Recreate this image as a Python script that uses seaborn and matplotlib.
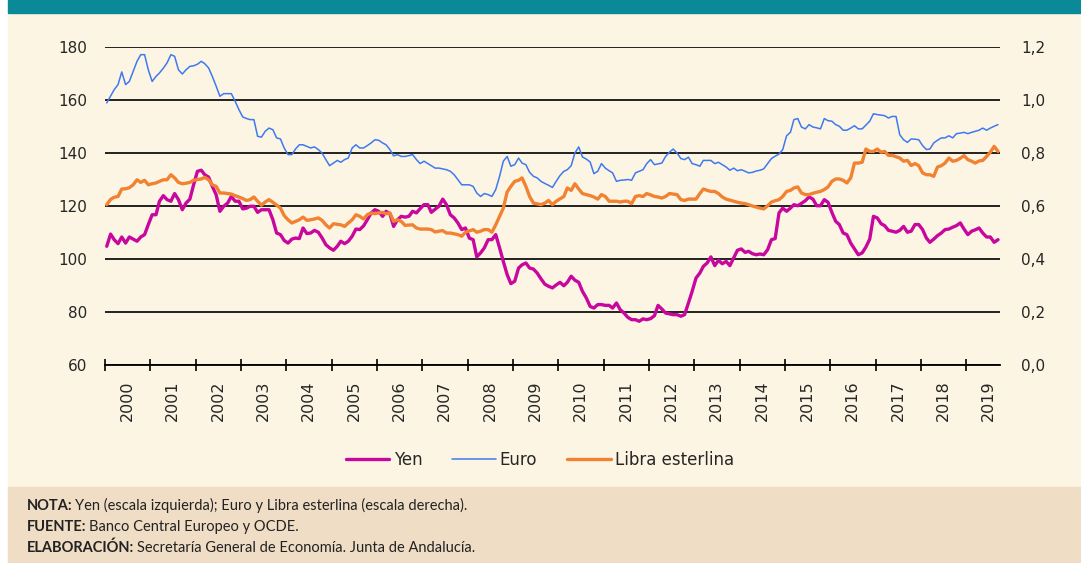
import pandas as pd
import seaborn as sns
import matplotlib.pyplot as plt
import matplotlib.dates as mdates
from matplotlib.patches import Rectangle
from matplotlib.lines import Line2D
from matplotlib.ticker import FixedLocator, NullFormatter

# Tipos de cambio mensuales frente al dólar (ene-2000 a sep-2019)
yen = [104.8, 109.4, 107.3, 105.8, 108.3, 106.0, 108.3, 107.5, 106.7, 108.3, 109.2, 113.0,
       116.7, 116.7, 121.8, 123.9, 122.4, 121.8, 124.7, 122.4, 118.6, 121.1, 122.6, 128.0,
       133.1, 133.5, 131.8, 130.9, 127.4, 124.2, 118.0, 119.9, 121.1, 123.6, 121.8, 121.8,
       118.9, 119.2, 119.9, 119.9, 117.6, 118.6, 118.6, 118.6, 114.8, 109.8, 109.2, 107.0,
       106.0, 107.5, 107.9, 107.7, 111.7, 109.6, 109.8, 110.8, 110.1, 108.0, 105.4, 104.2,
       103.3, 104.8, 106.7, 105.8, 106.7, 108.6, 111.3, 111.1, 112.5, 114.8, 117.4, 118.6,
       118.0, 116.1, 118.0, 117.1, 112.3, 114.8, 116.1, 115.8, 116.1, 118.0, 117.4, 119.0,
       120.5, 120.5, 117.6, 118.8, 119.9, 122.6, 120.5, 116.7, 115.5, 113.6, 111.1, 111.7,
       107.9, 107.3, 100.8, 102.3, 104.2, 107.3, 107.3, 109.2, 104.2, 99.1, 94.1, 90.7,
       91.6, 96.6, 97.8, 98.5, 96.6, 96.2, 94.7, 92.5, 90.5, 89.7, 89.1, 90.2,
       91.2, 89.9, 91.2, 93.5, 92.0, 91.2, 87.8, 85.3, 82.1, 81.5, 82.8, 82.8,
       82.5, 82.5, 81.5, 83.4, 80.9, 79.6, 78.0, 77.1, 77.1, 76.5, 77.4, 77.1,
       77.5, 78.6, 82.5, 81.1, 79.6, 79.3, 79.0, 79.0, 78.4, 79.0, 83.4, 87.8,
       92.8, 94.7, 97.2, 98.5, 100.8, 97.5, 99.5, 98.2, 99.1, 97.5, 100.4, 103.3,
       103.8, 102.5, 102.9, 102.0, 101.6, 101.9, 101.6, 103.5, 107.3, 107.7, 117.4, 119.2,
       118.0, 119.2, 120.5, 120.1, 121.0, 122.0, 123.4, 122.6, 120.1, 120.1, 122.4, 121.4,
       117.6, 114.2, 113.0, 109.8, 109.2, 106.0, 103.8, 101.6, 102.3, 104.5, 107.5, 116.1,
       115.5, 113.3, 112.6, 110.8, 110.5, 110.1, 110.8, 112.3, 110.1, 110.5, 113.0, 113.0,
       111.1, 107.9, 106.3, 107.5, 108.8, 109.8, 111.1, 111.3, 112.0, 112.6, 113.6, 111.3,
       109.2, 110.5, 111.0, 111.7, 109.8, 108.3, 108.3, 106.3, 107.3]

euro = [0.989, 1.015, 1.039, 1.058, 1.106, 1.058, 1.070, 1.108, 1.146, 1.171, 1.171, 1.114,
        1.070, 1.089, 1.102, 1.120, 1.140, 1.171, 1.165, 1.114, 1.098, 1.114, 1.127, 1.129,
        1.135, 1.146, 1.137, 1.121, 1.089, 1.052, 1.014, 1.024, 1.024, 1.024, 0.995, 0.964,
        0.936, 0.930, 0.926, 0.926, 0.863, 0.860, 0.882, 0.894, 0.888, 0.857, 0.853, 0.819,
        0.794, 0.794, 0.815, 0.831, 0.831, 0.825, 0.819, 0.823, 0.813, 0.800, 0.775, 0.752,
        0.762, 0.772, 0.765, 0.775, 0.781, 0.819, 0.831, 0.819, 0.819, 0.828, 0.838, 0.850,
        0.848, 0.838, 0.831, 0.813, 0.789, 0.794, 0.787, 0.787, 0.790, 0.794, 0.775, 0.760,
        0.769, 0.760, 0.752, 0.743, 0.743, 0.740, 0.737, 0.731, 0.718, 0.699, 0.680, 0.680,
        0.680, 0.674, 0.649, 0.636, 0.647, 0.643, 0.636, 0.662, 0.712, 0.769, 0.787, 0.750,
        0.756, 0.781, 0.762, 0.756, 0.727, 0.712, 0.706, 0.693, 0.685, 0.678, 0.670, 0.693,
        0.715, 0.731, 0.737, 0.752, 0.800, 0.823, 0.785, 0.777, 0.766, 0.722, 0.731, 0.760,
        0.743, 0.733, 0.725, 0.693, 0.697, 0.698, 0.700, 0.697, 0.725, 0.731, 0.737, 0.760,
        0.775, 0.756, 0.759, 0.762, 0.787, 0.803, 0.815, 0.800, 0.779, 0.775, 0.784, 0.760,
        0.756, 0.750, 0.772, 0.772, 0.772, 0.760, 0.765, 0.756, 0.747, 0.735, 0.743, 0.733,
        0.737, 0.731, 0.725, 0.727, 0.732, 0.735, 0.740, 0.760, 0.779, 0.788, 0.796, 0.813,
        0.865, 0.878, 0.926, 0.930, 0.898, 0.891, 0.907, 0.898, 0.895, 0.891, 0.930, 0.922,
        0.920, 0.907, 0.901, 0.886, 0.886, 0.894, 0.903, 0.891, 0.891, 0.905, 0.920, 0.948,
        0.945, 0.943, 0.941, 0.932, 0.938, 0.938, 0.869, 0.850, 0.840, 0.853, 0.852, 0.850,
        0.828, 0.813, 0.815, 0.838, 0.848, 0.857, 0.857, 0.865, 0.857, 0.873, 0.875, 0.878,
        0.873, 0.878, 0.882, 0.886, 0.894, 0.886, 0.894, 0.901, 0.907]

libra = [0.605, 0.625, 0.633, 0.636, 0.664, 0.665, 0.669, 0.680, 0.699, 0.689, 0.697, 0.680,
         0.684, 0.687, 0.693, 0.699, 0.699, 0.718, 0.706, 0.689, 0.684, 0.686, 0.689, 0.697,
         0.700, 0.702, 0.708, 0.699, 0.680, 0.674, 0.649, 0.649, 0.647, 0.645, 0.639, 0.634,
         0.628, 0.621, 0.624, 0.634, 0.618, 0.603, 0.615, 0.624, 0.614, 0.603, 0.592, 0.564,
         0.548, 0.536, 0.542, 0.548, 0.558, 0.546, 0.548, 0.551, 0.555, 0.546, 0.529, 0.517,
         0.533, 0.531, 0.529, 0.523, 0.536, 0.548, 0.567, 0.561, 0.551, 0.567, 0.574, 0.571,
         0.574, 0.576, 0.571, 0.574, 0.542, 0.548, 0.542, 0.527, 0.528, 0.529, 0.517, 0.513,
         0.513, 0.513, 0.511, 0.502, 0.505, 0.507, 0.498, 0.498, 0.495, 0.492, 0.486, 0.501,
         0.506, 0.511, 0.501, 0.505, 0.511, 0.511, 0.501, 0.529, 0.561, 0.592, 0.653, 0.674,
         0.693, 0.697, 0.706, 0.674, 0.636, 0.611, 0.608, 0.605, 0.611, 0.621, 0.605, 0.618,
         0.627, 0.636, 0.668, 0.659, 0.684, 0.664, 0.647, 0.643, 0.639, 0.634, 0.626, 0.643,
         0.636, 0.618, 0.618, 0.618, 0.615, 0.618, 0.618, 0.609, 0.636, 0.639, 0.636, 0.647,
         0.642, 0.636, 0.634, 0.630, 0.636, 0.647, 0.645, 0.643, 0.624, 0.621, 0.626, 0.626,
         0.626, 0.647, 0.664, 0.659, 0.655, 0.655, 0.647, 0.634, 0.626, 0.622, 0.618, 0.614,
         0.611, 0.609, 0.605, 0.600, 0.596, 0.592, 0.589, 0.601, 0.615, 0.620, 0.624, 0.636,
         0.655, 0.659, 0.668, 0.672, 0.649, 0.643, 0.643, 0.648, 0.652, 0.655, 0.662, 0.672,
         0.693, 0.702, 0.702, 0.697, 0.687, 0.706, 0.762, 0.762, 0.765, 0.815, 0.806, 0.806,
         0.815, 0.803, 0.806, 0.791, 0.791, 0.786, 0.781, 0.769, 0.772, 0.753, 0.760, 0.752,
         0.725, 0.718, 0.718, 0.712, 0.747, 0.752, 0.762, 0.781, 0.769, 0.772, 0.780, 0.790,
         0.775, 0.769, 0.762, 0.770, 0.772, 0.787, 0.803, 0.825, 0.806]

years = list(range(2000, 2020))
y_left = [60, 80, 100, 120, 140, 160, 180]
y_right = [0.0, 0.2, 0.4, 0.6, 0.8, 1.0, 1.2]

fechas = pd.date_range('2000-01-01', periods=len(yen), freq='MS') + pd.Timedelta(days=14)
df = pd.DataFrame({'fecha': fechas, 'Yen': yen, 'Euro': euro, 'Libra esterlina': libra})

col_yen = '#c8079e'
col_euro = '#3d7af0'
col_libra = '#f08232'

sns.set_style('white')
plt.rcParams['font.family'] = ['DejaVu Sans']

W, H = 1081, 563
fig = plt.figure(figsize=(W / 100, H / 100), dpi=100)
fig.patch.set_facecolor('white')

# fondos del recuadro
fig.add_artist(Rectangle((8 / W, 0), 1, 1, transform=fig.transFigure,
                         color='#fdf5e3', zorder=-3))
fig.add_artist(Rectangle((8 / W, 1 - 13 / H), 1, 13 / H, transform=fig.transFigure,
                         color='#0a8a98', zorder=-2))
fig.add_artist(Rectangle((8 / W, 0), 1, 76 / H, transform=fig.transFigure,
                         color='#f0ddc5', zorder=-2))

ax = fig.add_axes([105 / W, 1 - 365 / H, 895 / W, 318 / H])
ax.patch.set_visible(False)
ax2 = ax.twinx()

sns.lineplot(data=df, x='fecha', y='Yen', ax=ax, color=col_yen, lw=2.4)
sns.lineplot(data=df, x='fecha', y='Euro', ax=ax2, color=col_euro, lw=1.1)
sns.lineplot(data=df, x='fecha', y='Libra esterlina', ax=ax2, color=col_libra, lw=2.4)

ax.set_ylim(60, 180)
ax2.set_ylim(0, 1.2)
ax.set_xlim(pd.Timestamp('2000-01-01'), pd.Timestamp('2019-10-01'))
ax.set_xlabel('')
ax.set_ylabel('')
ax2.set_ylabel('')

# eje x: marcas al inicio de cada año y etiqueta a mitad de año
ax.xaxis.set_major_locator(FixedLocator(mdates.date2num([pd.Timestamp(f'{y}-01-01') for y in years])))
ax.xaxis.set_major_formatter(NullFormatter())
ax.xaxis.set_minor_locator(FixedLocator(mdates.date2num([pd.Timestamp(f'{y}-07-01') for y in years])))
ax.set_xticklabels([str(y) for y in years], minor=True, rotation=90, fontsize=11.5)
ax.tick_params(axis='x', which='major', direction='inout', length=9, width=1.2, color='black', bottom=True)
ax.tick_params(axis='x', which='minor', length=0, pad=11, bottom=True)

ax.set_yticks(y_left)
ax.set_yticklabels([str(v) for v in y_left], fontsize=11)
ax.tick_params(axis='y', length=0, pad=13)
ax2.set_yticks(y_right)
ax2.set_yticklabels([f'{v:.1f}'.replace('.', ',') for v in y_right], fontsize=11)
ax2.tick_params(axis='y', length=0, pad=15)

ax.grid(axis='y', color='#111111', linewidth=1.3)
ax.grid(axis='x', visible=False)
for s in ['left', 'right', 'top']:
    ax.spines[s].set_visible(False)
    ax2.spines[s].set_visible(False)
ax.spines['bottom'].set_color('black')
ax.spines['bottom'].set_linewidth(1.3)
ax2.spines['bottom'].set_visible(False)

handles = [Line2D([], [], color=col_yen, lw=2.4),
           Line2D([], [], color=col_euro, lw=1.1),
           Line2D([], [], color=col_libra, lw=2.4)]
fig.legend(handles, ['Yen', 'Euro', 'Libra esterlina'], loc='center',
           bbox_to_anchor=(540 / W, 1 - 460 / H), ncol=3, frameon=False, fontsize=12,
           handlelength=2.6, columnspacing=1.8, handletextpad=0.25)

# notas al pie
notas = [('NOTA:', 'Yen (escala izquierda); Euro y Libra esterlina (escala derecha).', 506),
         ('FUENTE:', 'Banco Central Europeo y OCDE.', 527),
         ('ELABORACIÓN:', 'Secretaría General de Economía. Junta de Andalucía.', 548)]
for negrita, resto, yp in notas:
    t = fig.text(27 / W, 1 - yp / H, negrita, fontsize=10.5, fontweight='bold',
                 family='Lato', color='#222222', va='center')
    ax.annotate(resto, xy=(1, 0), xycoords=t, xytext=(2, 0), textcoords='offset points',
                va='bottom', fontsize=10.5, family='Lato', color='#222222', annotation_clip=False)

fig.savefig('out.png', dpi=100, facecolor=fig.get_facecolor())
